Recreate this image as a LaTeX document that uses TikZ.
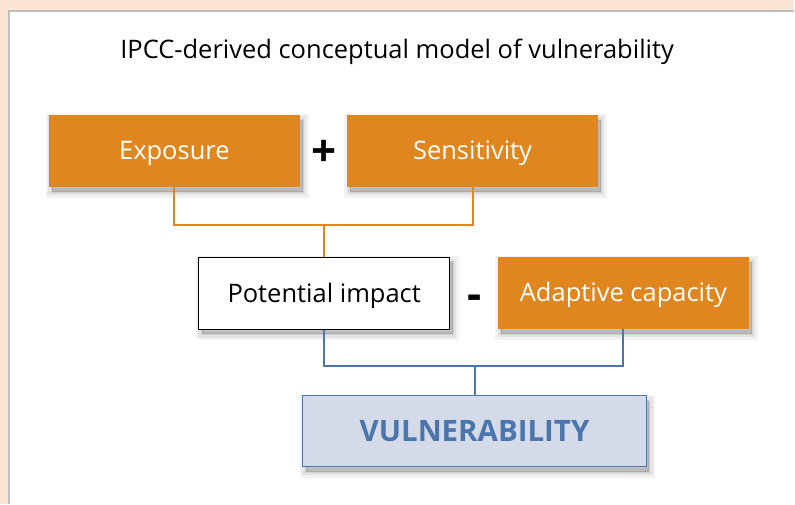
\documentclass[tikz,border=0pt]{standalone}
\usepackage{fontspec}
\setmainfont{Open Sans}
\definecolor{boxorange}{HTML}{E0861E}
\definecolor{lineblue}{HTML}{4A76AD}
\definecolor{vulnfill}{HTML}{D4DAE7}
\definecolor{pagebeige}{HTML}{FAE5D3}
\tikzset{
	softshadow/.style={
		preaction={fill=black,fill opacity=0.05,draw=black,draw opacity=0.05,line width=12pt,transform canvas={shift={(3pt,-5pt)}}},
		preaction={fill=black,fill opacity=0.06,draw=black,draw opacity=0.06,line width=7pt,transform canvas={shift={(3pt,-5pt)}}},
		preaction={fill=black,fill opacity=0.08,draw=black,draw opacity=0.08,line width=2pt,transform canvas={shift={(3pt,-5pt)}}}},
	box/.style={minimum width=251pt,minimum height=72pt,inner sep=0pt,text height=18pt,text depth=0pt,
		font=\fontsize{25.5}{28}\selectfont,softshadow},
	factor/.style={box,fill=boxorange,text=white},
	orangeline/.style={boxorange,line width=2pt},
	blueline/.style={lineblue,line width=2pt},
	sign/.style={font=\fontsize{44}{44}\selectfont\bfseries,inner sep=0pt}
}
\begin{document}
\begin{tikzpicture}[x=1pt,y=-1pt]
%page
\fill[pagebeige] (0,0) rectangle (795,504);
\fill[white] (9,11) rectangle (795,504);
\draw[black!25,line width=1.5pt] (9,504) -- (9,11) -- (795,11);
\useasboundingbox (0,0) rectangle (795,504);
%title
\node[text height=18pt,text depth=0pt,inner sep=0pt] (title) at (397.5,50) {\fontsize{25.5}{28}\selectfont IPCC-derived conceptual model of vulnerability};
%boxes
\node[factor] (exp) at (174.5,151) {Exposure};
\node[factor] (sen) at (473,151) {Sensitivity};
\node[box,fill=white,draw=black,line width=1pt] (pot) at (324.5,293.5) {Potential impact};
\node[factor] (ada) at (624,293) {Adaptive capacity};
\node[box,minimum width=344pt,minimum height=71pt,fill=vulnfill,draw=lineblue,line width=1pt,
	text=lineblue,text height=21pt,font=\fontsize{29.5}{32}\selectfont\bfseries] (vul) at (475,431.5) {VULNERABILITY};
%signs
\node[sign] (plus) at (324,154) {+};
\node[sign] (minus) at (475,303) {-};
%lines
\coordinate (j1) at (324.5,225);
\coordinate (j2) at (475,366);
\draw[orangeline] (exp.south) |- (j1) -| (sen.south);
\draw[orangeline] (j1) -- (pot.north);
\draw[blueline] (pot.south) |- (j2) -| (ada.south);
\draw[blueline] (j2) -- (vul.north);
\end{tikzpicture}
\end{document}
